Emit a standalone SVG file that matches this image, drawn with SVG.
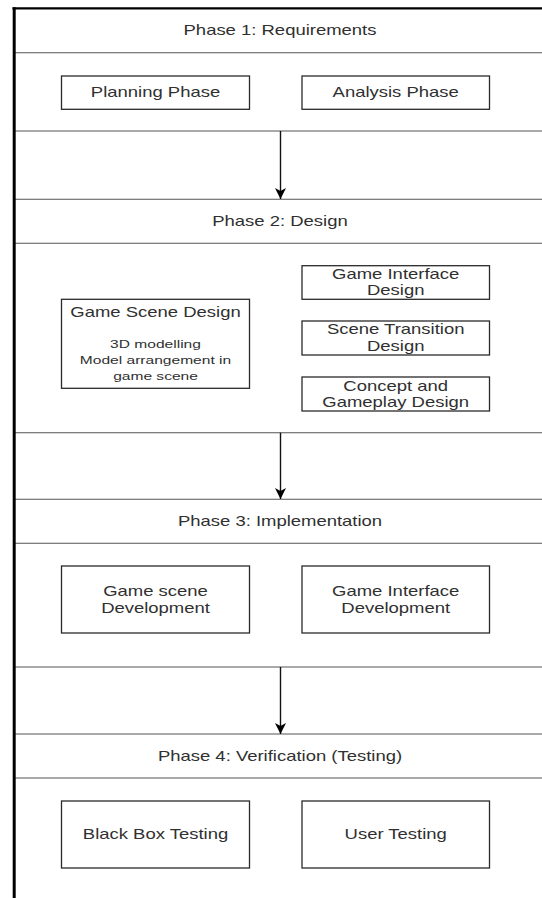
<svg xmlns="http://www.w3.org/2000/svg" width="542" height="898" viewBox="0 0 542 898">
<style>
.t{font-family:"Liberation Sans",Arial,sans-serif;font-size:14px;fill:#303030;text-anchor:middle}
.s{font-size:11.8px}
.box{fill:#fff;stroke:#2a2a2a;stroke-width:1.3}
.sep{stroke:#555;stroke-width:1.1;fill:none}
.border{stroke:#000;fill:none}
.conn{stroke:#111;stroke-width:1.4;fill:none}
</style>
<defs>
<marker id="ah" markerUnits="userSpaceOnUse" markerWidth="12" markerHeight="11" refX="11" refY="5.5" orient="auto">
<path d="M0,0 L11,5.5 L0,11 L3,5.5 Z" fill="#000"/>
</marker>
</defs>
<rect x="0" y="0" width="542" height="898" fill="#fff"/>
<g id="frame">
<line class="sep" x1="14" y1="52.7" x2="542" y2="52.7"/>
<line class="sep" x1="14" y1="131" x2="542" y2="131"/>
<line class="sep" x1="14" y1="199.3" x2="542" y2="199.3"/>
<line class="sep" x1="14" y1="243.3" x2="542" y2="243.3"/>
<line class="sep" x1="14" y1="432.7" x2="542" y2="432.7"/>
<line class="sep" x1="14" y1="499.3" x2="542" y2="499.3"/>
<line class="sep" x1="14" y1="543.3" x2="542" y2="543.3"/>
<line class="sep" x1="14" y1="667" x2="542" y2="667"/>
<line class="sep" x1="14" y1="734" x2="542" y2="734"/>
<line class="sep" x1="14" y1="778" x2="542" y2="778"/>
<line class="border" x1="12.5" y1="8.3" x2="542" y2="8.3" stroke-width="2.2"/>
<line class="border" x1="14.2" y1="7.2" x2="14.2" y2="898" stroke-width="3"/>
</g>
<g id="phase1">
<text class="t" transform="translate(280 35.3) scale(1.32 1)">Phase 1: Requirements</text>
</g>
<g id="planning">
<rect class="box" x="61.5" y="76" width="188" height="33.3"/>
<text class="t" transform="translate(155.5 97) scale(1.32 1)">Planning Phase</text>
</g>
<g id="analysis">
<rect class="box" x="302" y="76" width="187.5" height="33.3"/>
<text class="t" transform="translate(395.7 97) scale(1.32 1)">Analysis Phase</text>
</g>
<g id="phase2">
<text class="t" transform="translate(280 226) scale(1.32 1)">Phase 2: Design</text>
</g>
<g id="gamescene">
<rect class="box" x="61.5" y="299.3" width="188" height="89"/>
<text class="t" transform="translate(155.5 317) scale(1.32 1)">Game Scene Design</text>
<text class="t s" transform="translate(155.5 348.3) scale(1.32 1)">3D modelling</text>
<text class="t s" transform="translate(155.5 364) scale(1.32 1)">Model arrangement in</text>
<text class="t s" transform="translate(155.5 379.5) scale(1.32 1)">game scene</text>
</g>
<g id="gameinterface">
<rect class="box" x="302" y="265.7" width="187.5" height="33.6"/>
<text class="t" transform="translate(395.7 279) scale(1.32 1)">Game Interface</text>
<text class="t" transform="translate(395.7 295) scale(1.32 1)">Design</text>
</g>
<g id="scenetransition">
<rect class="box" x="302" y="321" width="187.5" height="34"/>
<text class="t" transform="translate(395.7 334.3) scale(1.32 1)">Scene Transition</text>
<text class="t" transform="translate(395.7 350.8) scale(1.32 1)">Design</text>
</g>
<g id="concept">
<rect class="box" x="302" y="377" width="187.5" height="34"/>
<text class="t" transform="translate(395.7 390.7) scale(1.32 1)">Concept and</text>
<text class="t" transform="translate(395.7 406.7) scale(1.32 1)">Gameplay Design</text>
</g>
<g id="phase3">
<text class="t" transform="translate(280 525.8) scale(1.32 1)">Phase 3: Implementation</text>
</g>
<g id="scenedev">
<rect class="box" x="61.5" y="566" width="188" height="67"/>
<text class="t" transform="translate(155.5 595.7) scale(1.32 1)">Game scene</text>
<text class="t" transform="translate(155.5 612.7) scale(1.32 1)">Development</text>
</g>
<g id="interfacedev">
<rect class="box" x="302" y="566" width="187.5" height="67"/>
<text class="t" transform="translate(395.7 595.7) scale(1.32 1)">Game Interface</text>
<text class="t" transform="translate(395.7 612.7) scale(1.32 1)">Development</text>
</g>
<g id="phase4">
<text class="t" transform="translate(280 760.5) scale(1.32 1)">Phase 4: Verification (Testing)</text>
</g>
<g id="blackbox">
<rect class="box" x="61.5" y="801" width="188" height="67"/>
<text class="t" transform="translate(155.5 839) scale(1.32 1)">Black Box Testing</text>
</g>
<g id="usertesting">
<rect class="box" x="302" y="801" width="187.5" height="67"/>
<text class="t" transform="translate(395.7 839) scale(1.32 1)">User Testing</text>
</g>
<g id="connectors">
<line class="conn" x1="280.5" y1="131" x2="280.5" y2="199" marker-end="url(#ah)"/>
<line class="conn" x1="280.5" y1="432.7" x2="280.5" y2="499" marker-end="url(#ah)"/>
<line class="conn" x1="280.5" y1="667" x2="280.5" y2="734" marker-end="url(#ah)"/>
</g>
</svg>
